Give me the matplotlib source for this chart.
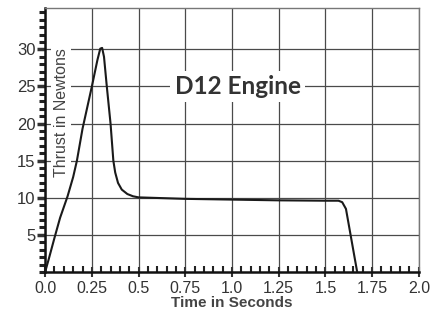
import matplotlib.pyplot as plt
from matplotlib.ticker import MultipleLocator

# thrust curve
time_s = [0, 0.02, 0.05, 0.08, 0.12, 0.15, 0.17, 0.20, 0.25, 0.28, 0.295, 0.305,
          0.315, 0.33, 0.35, 0.365, 0.375, 0.39, 0.41, 0.44, 0.47, 0.50, 0.75,
          1.0, 1.25, 1.5, 1.57, 1.59, 1.61, 1.67]
thrust_n = [0, 1.8, 4.6, 7.3, 10.2, 12.8, 15, 19.3, 25, 28.6, 30.1, 30.2,
            29, 25, 20, 15, 13.4, 12.0, 11.1, 10.5, 10.2, 10.05, 9.85,
            9.75, 9.65, 9.6, 9.6, 9.4, 8.5, 0]

x_ticks = [0, 0.25, 0.5, 0.75, 1.0, 1.25, 1.5, 1.75, 2.0]
x_labels = ['0.0', '0.25', '0.5', '0.75', '1.0', '1.25', '1.5', '1.75', '2.0']
y_ticks = [5, 10, 15, 20, 25, 30]

plt.rcParams['font.family'] = ['Liberation Sans', 'DejaVu Sans']

fig = plt.figure(figsize=(4.3, 3.14), dpi=100)
ax = fig.add_axes([0.105, 0.134, 0.869, 0.841])

ax.plot(time_s, thrust_n, color='#1a1a1a', lw=1.5, zorder=3)

ax.set_xlim(0, 2.0)
ax.set_ylim(0, 35.6)
ax.set_xticks(x_ticks)
ax.set_xticklabels(x_labels)
ax.set_yticks(y_ticks)
ax.xaxis.set_minor_locator(MultipleLocator(0.05))
ax.yaxis.set_minor_locator(MultipleLocator(1))

ax.grid(True, which='major', color='#4a4a4a', lw=0.9)
ax.set_axisbelow(True)

for s in ['top', 'right']:
    ax.spines[s].set_color('#777777')
    ax.spines[s].set_linewidth(1.0)
for s in ['left', 'bottom']:
    ax.spines[s].set_color('#111111')
    ax.spines[s].set_linewidth(1.8)

ax.tick_params(axis='y', which='major', direction='out', length=6, width=2.5,
               labelsize=12, colors='#333333', pad=1)
ax.tick_params(axis='y', which='minor', direction='out', length=4, width=2.2,
               colors='#222222')
ax.tick_params(axis='x', which='major', direction='inout', length=7, width=1.5,
               labelsize=11.5, colors='#333333', pad=3)
ax.tick_params(axis='x', which='minor', direction='in', length=4, width=1.5,
               colors='#222222')

ax.set_xlabel('Time in Seconds', fontsize=11, fontweight='bold', color='#444444',
              labelpad=0)

ax.text(0.085, 21.5, 'Thrust in Newtons', rotation=90, ha='center', va='center',
        fontsize=11.5, color='#444444',
        bbox=dict(facecolor='white', edgecolor='none', pad=1.5), zorder=2)
ax.text(1.03, 25, 'D12 Engine', ha='center', va='center', fontsize=17.5,
        fontweight='bold', color='#333333', family=['Lato', 'DejaVu Sans'],
        bbox=dict(facecolor='white', edgecolor='none', pad=3), zorder=2)

fig.savefig('out.png', dpi=100)
